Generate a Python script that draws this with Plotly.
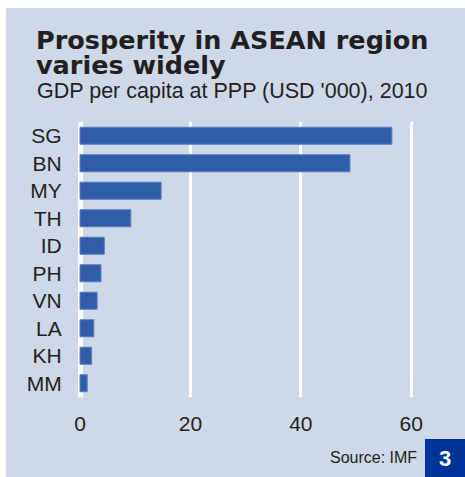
import plotly.graph_objects as go

# GDP per capita at PPP, thousands of USD, 2010
countries = ["SG", "BN", "MY", "TH", "ID", "PH", "VN", "LA", "KH", "MM"]
gdp_ppp = [56.5, 48.9, 14.7, 9.2, 4.4, 3.8, 3.1, 2.5, 2.1, 1.3]
x_ticks = [0, 20, 40, 60]

W, H = 465, 477
PANEL = "#CDD8E9"
BAR = "#2F5DA8"
TEXT = "#231F20"
SANS = "Liberation Sans, Arial, sans-serif"
HEAVY = "DejaVu Sans, sans-serif"


def px(x):
    return x / W


def py(y):
    return 1 - y / H


fig = go.Figure(
    go.Bar(
        x=gdp_ppp,
        y=countries,
        orientation="h",
        marker=dict(color=BAR, line=dict(color="#5A7FC0", width=1)),
        width=0.62,
        hoverinfo="skip",
    )
)

fig.update_layout(
    width=W,
    height=H,
    margin=dict(l=0, r=0, t=0, b=0),
    paper_bgcolor="white",
    plot_bgcolor=PANEL,
    showlegend=False,
    xaxis=dict(
        domain=[px(76.7), px(438.8)],
        range=[-0.6, 65],
        tickvals=x_ticks,
        showgrid=True,
        gridcolor="white",
        gridwidth=2.5,
        zeroline=True,
        zerolinecolor="white",
        zerolinewidth=4.5,
        showline=False,
        ticks="",
        ticklabelstandoff=12,
        tickfont=dict(family=SANS, size=21, color=TEXT),
        automargin=False,
        fixedrange=True,
    ),
    yaxis=dict(
        domain=[py(397), py(122)],
        range=[9.5, -0.5],
        categoryorder="array",
        categoryarray=countries,
        showgrid=False,
        zeroline=False,
        showline=False,
        ticks="",
        ticklabelstandoff=14,
        tickfont=dict(family=SANS, size=21, color=TEXT),
        automargin=False,
        fixedrange=True,
    ),
    shapes=[
        # light blue panel behind everything
        dict(type="rect", xref="paper", yref="paper", x0=px(6), x1=1, y0=0, y1=py(8),
             fillcolor=PANEL, line=dict(width=0), layer="below"),
        # page-number badge
        dict(type="rect", xref="paper", yref="paper", x0=px(425), x1=1, y0=0, y1=py(439),
             fillcolor="#003399", line=dict(width=0), layer="above"),
    ],
    annotations=[
        dict(text="<b>Prosperity in ASEAN region</b>", x=px(34), y=py(57), xref="paper", yref="paper",
             xanchor="left", yanchor="bottom", showarrow=False,
             font=dict(family=HEAVY, size=25.5, color=TEXT)),
        dict(text="<b>varies widely</b>", x=px(34), y=py(81.5), xref="paper", yref="paper",
             xanchor="left", yanchor="bottom", showarrow=False,
             font=dict(family=HEAVY, size=25.5, color=TEXT)),
        dict(text="GDP per capita at PPP (USD '000), 2010", x=px(35), y=py(105), xref="paper", yref="paper",
             xanchor="left", yanchor="bottom", showarrow=False,
             font=dict(family=SANS, size=21.5, color=TEXT)),
        dict(text="Source: IMF", x=px(419), y=py(457), xref="paper", yref="paper",
             xanchor="right", yanchor="middle", showarrow=False,
             font=dict(family=SANS, size=16, color=TEXT)),
        dict(text="<b>3</b>", x=px(445), y=py(458), xref="paper", yref="paper",
             xanchor="center", yanchor="middle", showarrow=False,
             font=dict(family=SANS, size=22, color="white")),
    ],
)

fig.write_html("out.html", config={"displayModeBar": False})
